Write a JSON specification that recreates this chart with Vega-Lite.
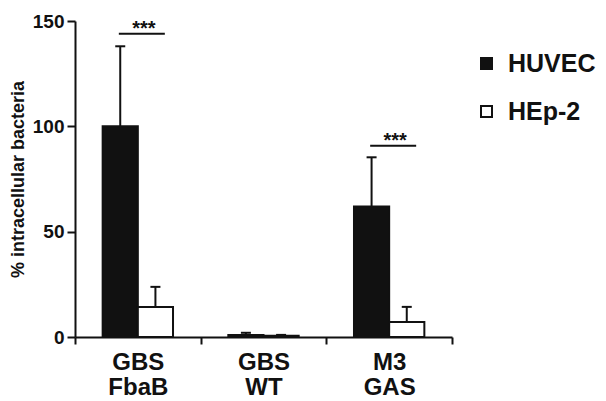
{
  "$schema": "https://vega.github.io/schema/vega-lite/v6.json",
  "width": 377,
  "height": 316,
  "autosize": {"type": "none"},
  "padding": {"left": 75, "top": 21, "right": 154, "bottom": 64},
  "background": "white",
  "config": {
    "font": "Liberation Sans",
    "view": {"stroke": null},
    "axis": {
      "domainColor": "#111",
      "domainWidth": 2,
      "tickColor": "#111",
      "tickWidth": 2,
      "grid": false,
      "labelColor": "#111",
      "titleColor": "#111",
      "labelFontWeight": "bold",
      "titleFontWeight": "bold"
    }
  },
  "datasets": {
    "bars": [
      {"cat": "GBS FbaB", "cell": "HUVEC", "mean": 100, "upper": 138},
      {"cat": "GBS FbaB", "cell": "HEp-2", "mean": 14.2, "upper": 23.8},
      {"cat": "GBS WT", "cell": "HUVEC", "mean": 1.0, "upper": 2.0},
      {"cat": "GBS WT", "cell": "HEp-2", "mean": 0.6, "upper": 1.0},
      {"cat": "M3 GAS", "cell": "HUVEC", "mean": 62, "upper": 85.3},
      {"cat": "M3 GAS", "cell": "HEp-2", "mean": 7.1, "upper": 14.3}
    ],
    "sig": [
      {"cat": "GBS FbaB", "y": 144, "label": "***"},
      {"cat": "M3 GAS", "y": 90.8, "label": "***"}
    ]
  },
  "encoding": {
    "x": {
      "field": "cat",
      "type": "nominal",
      "sort": ["GBS FbaB", "GBS WT", "M3 GAS"],
      "scale": {"type": "band", "paddingInner": 0, "paddingOuter": 0},
      "axis": {
        "title": null,
        "labelAngle": 0,
        "tickBand": "extent",
        "tickSize": 7,
        "labelFontSize": 24,
        "labelExpr": "split(datum.label, ' ')",
        "labelLineHeight": 25,
        "labelBaseline": "top",
        "labelPadding": 6
      }
    }
  },
  "layer": [
    {
      "data": {"name": "bars"},
      "mark": {"type": "rule", "stroke": "#111", "strokeWidth": 2},
      "encoding": {
        "xOffset": {"field": "cell", "type": "nominal", "sort": ["HUVEC", "HEp-2"], "scale": {"paddingInner": 0, "paddingOuter": 0.786}},
        "y": {"field": "mean", "type": "quantitative"},
        "y2": {"field": "upper"}
      }
    },
    {
      "data": {"name": "bars"},
      "mark": {"type": "tick", "orient": "horizontal", "size": 10, "thickness": 2, "color": "#111", "opacity": 1},
      "encoding": {
        "xOffset": {"field": "cell", "type": "nominal", "sort": ["HUVEC", "HEp-2"], "scale": {"paddingInner": 0, "paddingOuter": 0.786}},
        "y": {"field": "upper", "type": "quantitative"}
      }
    },
    {
      "data": {"name": "bars"},
      "mark": {"type": "bar", "stroke": "#111", "strokeWidth": 2, "opacity": 1},
      "encoding": {
        "xOffset": {"field": "cell", "type": "nominal", "sort": ["HUVEC", "HEp-2"], "scale": {"paddingInner": 0, "paddingOuter": 0.786}},
        "y": {
          "field": "mean",
          "type": "quantitative",
          "scale": {"domain": [0, 150], "nice": false},
          "axis": {
            "values": [0, 50, 100, 150],
            "title": "% intracellular bacteria",
            "titleFontSize": 18,
            "titlePadding": 5,
            "tickSize": 8,
            "labelFontSize": 19,
            "labelPadding": 3
          }
        },
        "fill": {
          "field": "cell",
          "type": "nominal",
          "sort": ["HUVEC", "HEp-2"],
          "scale": {"domain": ["HUVEC", "HEp-2"], "range": ["#111111", "#ffffff"]},
          "legend": {
            "orient": "none",
            "legendX": 399,
            "legendY": 30,
            "title": null,
            "padding": 0,
            "symbolType": "square",
            "symbolSize": 121,
            "symbolStrokeColor": "#111",
            "symbolStrokeWidth": 2,
            "symbolOpacity": 1,
            "labelFontSize": 25,
            "labelFontWeight": "bold",
            "labelColor": "#111",
            "labelOffset": 9,
            "rowPadding": 22
          }
        }
      }
    },
    {
      "data": {"name": "sig"},
      "mark": {"type": "tick", "orient": "horizontal", "size": 46, "thickness": 2, "color": "#111", "opacity": 1, "xOffset": 4},
      "encoding": {
        "y": {"field": "y", "type": "quantitative"}
      }
    },
    {
      "data": {"name": "sig"},
      "mark": {"type": "text", "fontSize": 20, "fontWeight": "bold", "color": "#111", "baseline": "alphabetic", "dx": 6, "dy": 1},
      "encoding": {
        "y": {"field": "y", "type": "quantitative"},
        "text": {"field": "label"}
      }
    }
  ]
}
